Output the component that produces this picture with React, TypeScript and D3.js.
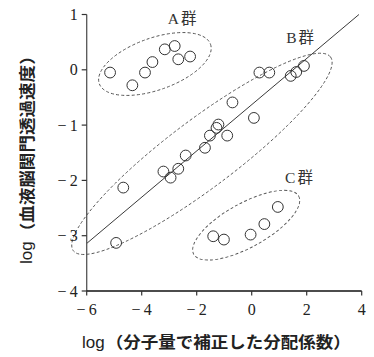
import React from "react";
import * as d3 from "d3";

const groupA: [number, number][] = [
  [-5.15, -0.05], [-4.34, -0.28], [-3.88, -0.05], [-3.61, 0.14],
  [-3.16, 0.37], [-2.8, 0.43], [-2.67, 0.19], [-2.24, 0.24],
];
const groupB: [number, number][] = [
  [-4.93, -3.13], [-4.67, -2.13], [-3.21, -1.84], [-2.95, -1.95],
  [-2.67, -1.79], [-2.4, -1.55], [-1.7, -1.41], [-1.52, -1.19],
  [-1.21, -0.99], [-1.28, -1.05], [-0.89, -1.19], [-0.7, -0.59],
  [0.08, -0.87], [0.28, -0.05], [0.64, -0.05], [1.42, -0.11],
  [1.62, -0.04], [1.9, 0.07],
];
const groupC: [number, number][] = [
  [-1.4, -3.01], [-1.01, -3.07], [-0.04, -2.98], [0.46, -2.79], [0.95, -2.48],
];
const regressionLine: [number, number][] = [[-6, -3.14], [3.9, 1.0]];
const xTicks = [-6, -4, -2, 0, 2, 4];
const yTicks = [-4, -3, -2, -1, 0, 1];
const groupNames = ["A", "B", "C"];
const labelPositions: [number, number][] = [[-2.53, 0.83], [1.76, 0.49], [1.72, -2.04]];
// ellipse: center (data), semi-axes (px), rotation (deg)
const ellipseCenters: [number, number][] = [[-3.52, 0.105], [-1.81, -1.52], [-0.2, -2.81]];
const ellipseAxes: [number, number][] = [[59, 26], [161, 34], [60, 22]];
const ellipseAngles = [-19.5, -37, -29];
const xTitleMain = "（分子量で補正した分配係数）";
const yTitleMain = "（血液脳関門透過速度）";

const W = 374, H = 357;
const x = d3.scaleLinear().domain([-6, 4]).range([86.7, 361.7]);
const y = d3.scaleLinear().domain([-4, 1]).range([291, 14.5]);

const fmt = (v: number) => (v < 0 ? "−\u2009" + Math.abs(v) : String(v));
const serif = "'Liberation Serif', 'DejaVu Serif', 'Noto Sans CJK JP', serif";
const gothic = "'Noto Sans CJK JP', sans-serif";

export default function App() {
  const points = [...groupA, ...groupB, ...groupC];
  const line = d3.line<[number, number]>().x((d) => x(d[0])).y((d) => y(d[1]));
  return (
    <svg width={W} height={H} style={{ position: "absolute", left: 0, top: 0, background: "#fff" }}>
      {ellipseCenters.map((c, i) => {
        const cx = x(c[0]), cy = y(c[1]);
        return (
          <ellipse key={i} cx={cx} cy={cy} rx={ellipseAxes[i][0]} ry={ellipseAxes[i][1]}
            transform={`rotate(${ellipseAngles[i]} ${cx} ${cy})`}
            fill="none" stroke="#555" strokeWidth={0.9} strokeDasharray="3,2.2" />
        );
      })}
      <path d={line(regressionLine) || ""} fill="none" stroke="#222" strokeWidth={0.9} />
      {points.map((p, i) => (
        <circle key={i} cx={x(p[0])} cy={y(p[1])} r={5.4} fill="none" stroke="#333" strokeWidth={1} />
      ))}
      <line x1={x(-6)} x2={x(-6)} y1={y(1)} y2={y(-4)} stroke="#555" strokeWidth={1.3} />
      {yTicks.map((t) => (
        <g key={t}>
          <line x1={x(-6) - 5} x2={x(-6)} y1={y(t)} y2={y(t)} stroke="#333" strokeWidth={1.2} />
          <text x={x(-6) - 9} y={y(t)} dy="0.35em" textAnchor="end" fontFamily={serif} fontSize={16} fill="#222">{fmt(t)}</text>
        </g>
      ))}
      <line x1={x(-6)} x2={x(4)} y1={y(-4)} y2={y(-4)} stroke="#111" strokeWidth={1.5} />
      {xTicks.map((t) => (
        <g key={t}>
          <line x1={x(t)} x2={x(t)} y1={y(-4)} y2={y(-4) + 4.5} stroke="#333" strokeWidth={1.2} />
          <text x={x(t)} y={315} textAnchor="middle" fontFamily={serif} fontSize={16} fill="#222">{fmt(t)}</text>
        </g>
      ))}
      {groupNames.map((l, i) => (
        <text key={l} x={x(labelPositions[i][0])} y={y(labelPositions[i][1])} textAnchor="middle"
          fontFamily={serif} fontSize={15.5} fill="#333">
          {l}
          <tspan dx={2} fontFamily={gothic}>群</tspan>
        </text>
      ))}
      <text x={82} y={348} fontSize={16} fill="#222">
        <tspan fontFamily="'Liberation Sans', 'Noto Sans', sans-serif" fontSize={17}>log</tspan>
        <tspan dx={1} fontFamily={gothic} fontWeight="bold" textLength={245} lengthAdjust="spacingAndGlyphs">{xTitleMain}</tspan>
      </text>
      <text transform={`translate(26,${264}) rotate(-90)`} x={0} y={0} dominantBaseline="central" fontSize={16} fill="#222">
        <tspan fontFamily="'Liberation Sans', 'Noto Sans', sans-serif" fontSize={17}>log</tspan>
        <tspan dx={1} fontFamily={gothic} fontWeight="bold" textLength={193} lengthAdjust="spacingAndGlyphs">{yTitleMain}</tspan>
      </text>
    </svg>
  );
}
